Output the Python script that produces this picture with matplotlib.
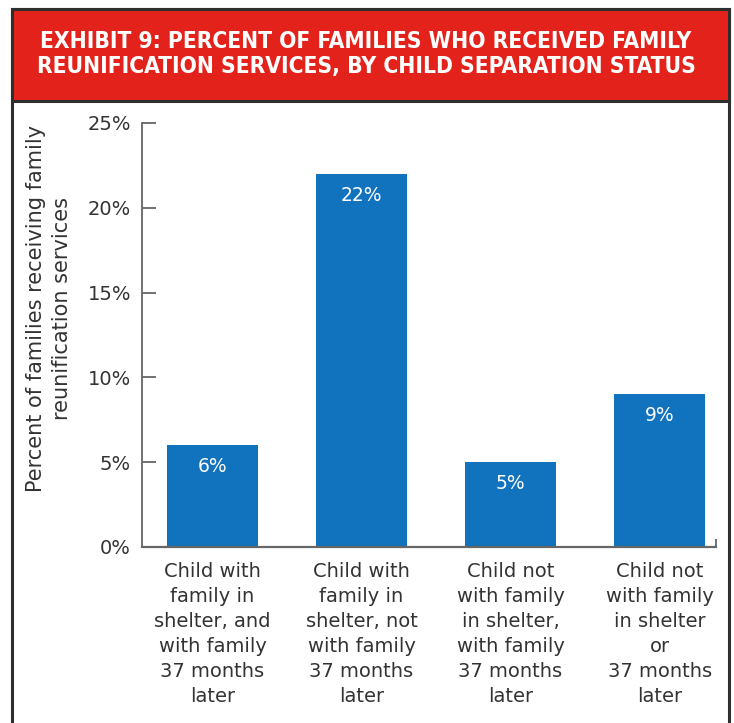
import matplotlib.pyplot as plt
from matplotlib.patches import Rectangle

# Family reunification services by child separation status
categories = [
    'Child with\nfamily in\nshelter, and\nwith family\n37 months\nlater',
    'Child with\nfamily in\nshelter, not\nwith family\n37 months\nlater',
    'Child not\nwith family\nin shelter,\nwith family\n37 months\nlater',
    'Child not\nwith family\nin shelter\nor\n37 months\nlater',
]
percents = [6, 22, 5, 9]
yticks = [0, 5, 10, 15, 20, 25]

title = ('EXHIBIT 9: PERCENT OF FAMILIES WHO RECEIVED FAMILY\n'
         'REUNIFICATION SERVICES, BY CHILD SEPARATION STATUS')
ylabel = 'Percent of families receiving family\nreunification services'

red = '#e3231b'
blue = '#1172bd'
edge = '#2e2e2e'
text_col = '#333333'
axis_col = '#666666'

plt.rcParams['font.family'] = ['DejaVu Sans']

W, H = 734, 723
fig = plt.figure(figsize=(W / 100, H / 100), dpi=100)

def fx(px):
    return px / W

def fy(py):
    return 1 - py / H

# white panel with dark frame, red header on top
fig.patches.append(Rectangle((fx(11.5), fy(730)), fx(729) - fx(11.5), fy(9) - fy(730),
                             transform=fig.transFigure, facecolor='white',
                             edgecolor=edge, lw=2.2, zorder=-2))
fig.patches.append(Rectangle((fx(11.5), fy(101)), fx(729) - fx(11.5), fy(9) - fy(101),
                             transform=fig.transFigure, facecolor=red,
                             edgecolor=edge, lw=2.2, zorder=-1))
fig.text(fx(366), fy(54), title, ha='center', va='center', color='white',
         fontsize=16.3, fontweight='bold', fontstretch='condensed',
         linespacing=1.12, family='DejaVu Sans')

ax = fig.add_axes([fx(142), fy(547), fx(715.6) - fx(142), fy(123) - fy(547)])
ax.set_zorder(5)
ax.set_facecolor('none')
x = list(range(len(categories)))
bars = ax.bar(x, percents, width=0.61, color=blue, zorder=2)
for b, v in zip(bars, percents):
    ax.text(b.get_x() + b.get_width() / 2, v - 1.25, f'{v}%', ha='center',
            va='center', color='white', fontsize=13.5)

ax.set_xlim(-0.473, 3.376)
ax.set_ylim(0, 25)
ax.set_yticks(yticks)
ax.set_yticklabels([f'{t}%' for t in yticks])
ax.set_xticks(x)
ax.set_xticklabels(categories, linespacing=1.4)
ax.tick_params(axis='y', direction='in', length=10, width=1.3, color=axis_col,
               labelsize=14, labelcolor=text_col, pad=8)
ax.tick_params(axis='x', length=0, labelsize=14, labelcolor=text_col, pad=11)
ax.set_xticks([3.376], minor=True)
ax.tick_params(axis='x', which='minor', direction='in', length=6, width=1.3,
               color=axis_col)

for s in ['top', 'right']:
    ax.spines[s].set_visible(False)
ax.spines['left'].set_color(axis_col)
ax.spines['left'].set_linewidth(1.3)
ax.spines['bottom'].set_color(axis_col)
ax.spines['bottom'].set_linewidth(1.6)

fig.text(fx(49), fy(308), ylabel, rotation=90, ha='center', va='center',
         color=text_col, fontsize=15, linespacing=1.35)

fig.savefig('out.png', dpi=100)
